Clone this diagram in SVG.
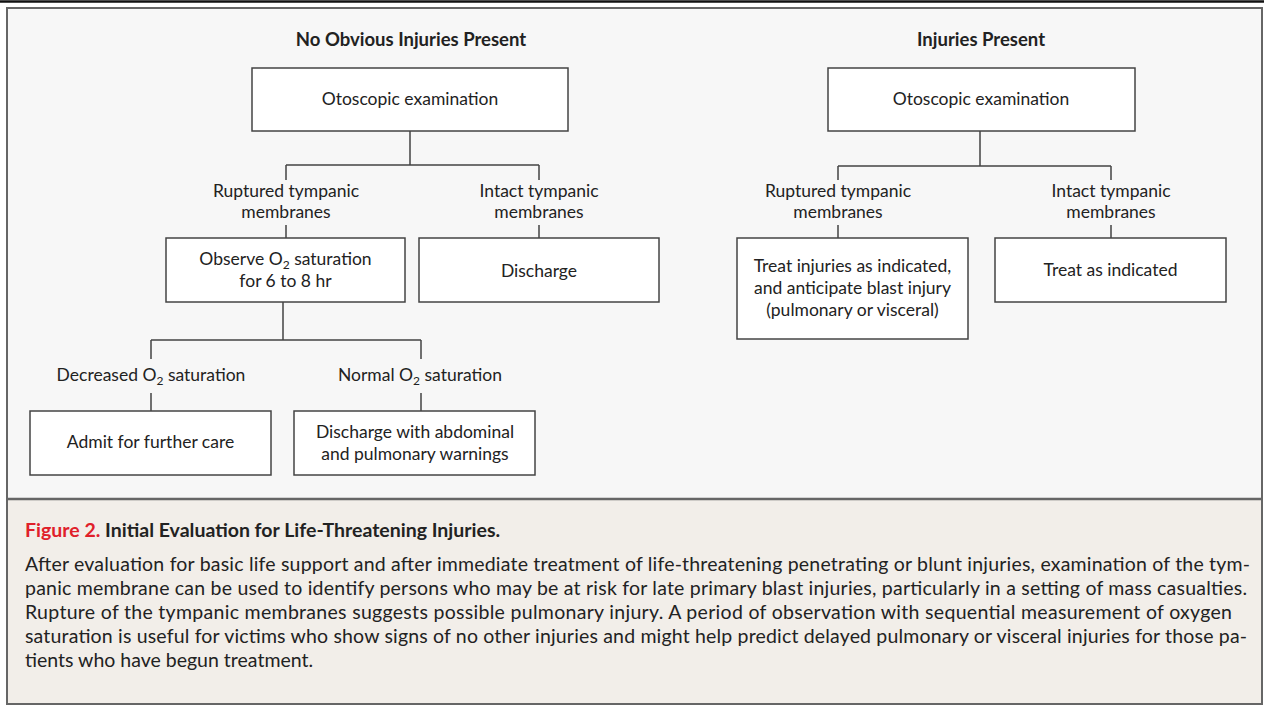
<svg xmlns="http://www.w3.org/2000/svg" width="1264" height="706" viewBox="0 0 1264 706">
<style>
  .bg{fill:#f7f7f7}
  .cap{fill:#f2eee9}
  .frame{fill:none;stroke:#666;stroke-width:2}
  .box{fill:#ffffff;stroke:#444;stroke-width:1.5}
  .ln{fill:none;stroke:#444;stroke-width:1.5}
  text{font-family:Lato,"Open Sans","Liberation Sans",sans-serif;fill:#222}
  .t{font-size:17.5px;text-anchor:middle}
  .h{font-size:18.5px;font-weight:bold;text-anchor:middle}
  .sub{font-size:12px}
  .ct{font-size:19.5px;font-weight:bold}
  .cb{font-size:19.5px}
  .red{fill:#e0202a}
</style>
<rect x="0" y="0" width="1264" height="706" fill="#ffffff"/>
<line x1="0" y1="1.5" x2="1264" y2="1.5" stroke="#111" stroke-width="2.5"/>
<rect class="bg" x="7" y="8" width="1255" height="491"/>
<rect class="cap" x="7" y="499" width="1255" height="205"/>
<rect class="frame" x="7" y="8" width="1255" height="696"/>
<line x1="7" y1="499" x2="1262" y2="499" stroke="#666" stroke-width="2.5"/>

<text class="h" x="411" y="46">No Obvious Injuries Present</text>
<text class="h" x="981" y="46">Injuries Present</text>

<g id="connectors">
  <path class="ln" d="M410,131 V165 M286,165 H539 M286,165 V180 M539,165 V180"/>
  <path class="ln" d="M286,225 V238 M539,225 V238"/>
  <path class="ln" d="M283,302 V340 M151,340 H421 M151,340 V359 M421,340 V359"/>
  <path class="ln" d="M151,393 V411 M421,393 V411"/>
  <path class="ln" d="M980,131 V166 M838,166 H1111 M838,166 V180 M1111,166 V180"/>
  <path class="ln" d="M838,225 V238 M1111,225 V238"/>
</g>

<g id="n-otoscopic-left">
  <rect class="box" x="252" y="68" width="316" height="63"/>
  <text class="t" x="410" y="105">Otoscopic examination</text>
</g>
<g id="l-ruptured-left">
  <text class="t" x="286" y="197">Ruptured tympanic</text>
  <text class="t" x="286" y="218">membranes</text>
</g>
<g id="l-intact-left">
  <text class="t" x="539" y="197">Intact tympanic</text>
  <text class="t" x="539" y="218">membranes</text>
</g>
<g id="n-observe">
  <rect class="box" x="166" y="238" width="239" height="64"/>
  <text class="t" x="285.5" y="265">Observe O<tspan class="sub" dy="4">2</tspan><tspan dy="-4"> saturation</tspan></text>
  <text class="t" x="285.5" y="287">for 6 to 8 hr</text>
</g>
<g id="n-discharge">
  <rect class="box" x="419" y="238" width="240" height="64"/>
  <text class="t" x="539" y="277">Discharge</text>
</g>
<g id="l-decreased">
  <text class="t" x="151" y="381">Decreased O<tspan class="sub" dy="4">2</tspan><tspan dy="-4"> saturation</tspan></text>
</g>
<g id="l-normal">
  <text class="t" x="420" y="381">Normal O<tspan class="sub" dy="4">2</tspan><tspan dy="-4"> saturation</tspan></text>
</g>
<g id="n-admit">
  <rect class="box" x="30" y="411" width="241" height="64"/>
  <text class="t" x="150.5" y="448">Admit for further care</text>
</g>
<g id="n-discharge-warnings">
  <rect class="box" x="294" y="411" width="241" height="64"/>
  <text class="t" x="415" y="438">Discharge with abdominal</text>
  <text class="t" x="415" y="460">and pulmonary warnings</text>
</g>

<g id="n-otoscopic-right">
  <rect class="box" x="828" y="68" width="307" height="63"/>
  <text class="t" x="981" y="105">Otoscopic examination</text>
</g>
<g id="l-ruptured-right">
  <text class="t" x="838" y="197">Ruptured tympanic</text>
  <text class="t" x="838" y="218">membranes</text>
</g>
<g id="l-intact-right">
  <text class="t" x="1111" y="197">Intact tympanic</text>
  <text class="t" x="1111" y="218">membranes</text>
</g>
<g id="n-treat-injuries">
  <rect class="box" x="737" y="238" width="231" height="101"/>
  <text class="t" x="852.5" y="272">Treat injuries as indicated,</text>
  <text class="t" x="852.5" y="294">and anticipate blast injury</text>
  <text class="t" x="852.5" y="316">(pulmonary or visceral)</text>
</g>
<g id="n-treat-as-indicated">
  <rect class="box" x="995" y="238" width="231" height="64"/>
  <text class="t" x="1110.5" y="276">Treat as indicated</text>
</g>

<g id="caption">
  <text class="ct" x="25" y="537"><tspan class="red">Figure 2.</tspan> Initial Evaluation for Life-Threatening Injuries.</text>
  <text class="cb" x="25" y="571" textLength="1225" lengthAdjust="spacing">After evaluation for basic life support and after immediate treatment of life-threatening penetrating or blunt injuries, examination of the tym-</text>
  <text class="cb" x="25" y="595" textLength="1222" lengthAdjust="spacing">panic membrane can be used to identify persons who may be at risk for late primary blast injuries, particularly in a setting of mass casualties.</text>
  <text class="cb" x="25" y="619" textLength="1207" lengthAdjust="spacing">Rupture of the tympanic membranes suggests possible pulmonary injury. A period of observation with sequential measurement of oxygen</text>
  <text class="cb" x="25" y="643" textLength="1222" lengthAdjust="spacing">saturation is useful for victims who show signs of no other injuries and might help predict delayed pulmonary or visceral injuries for those pa-</text>
  <text class="cb" x="25" y="667">tients who have begun treatment.</text>
</g>
</svg>
